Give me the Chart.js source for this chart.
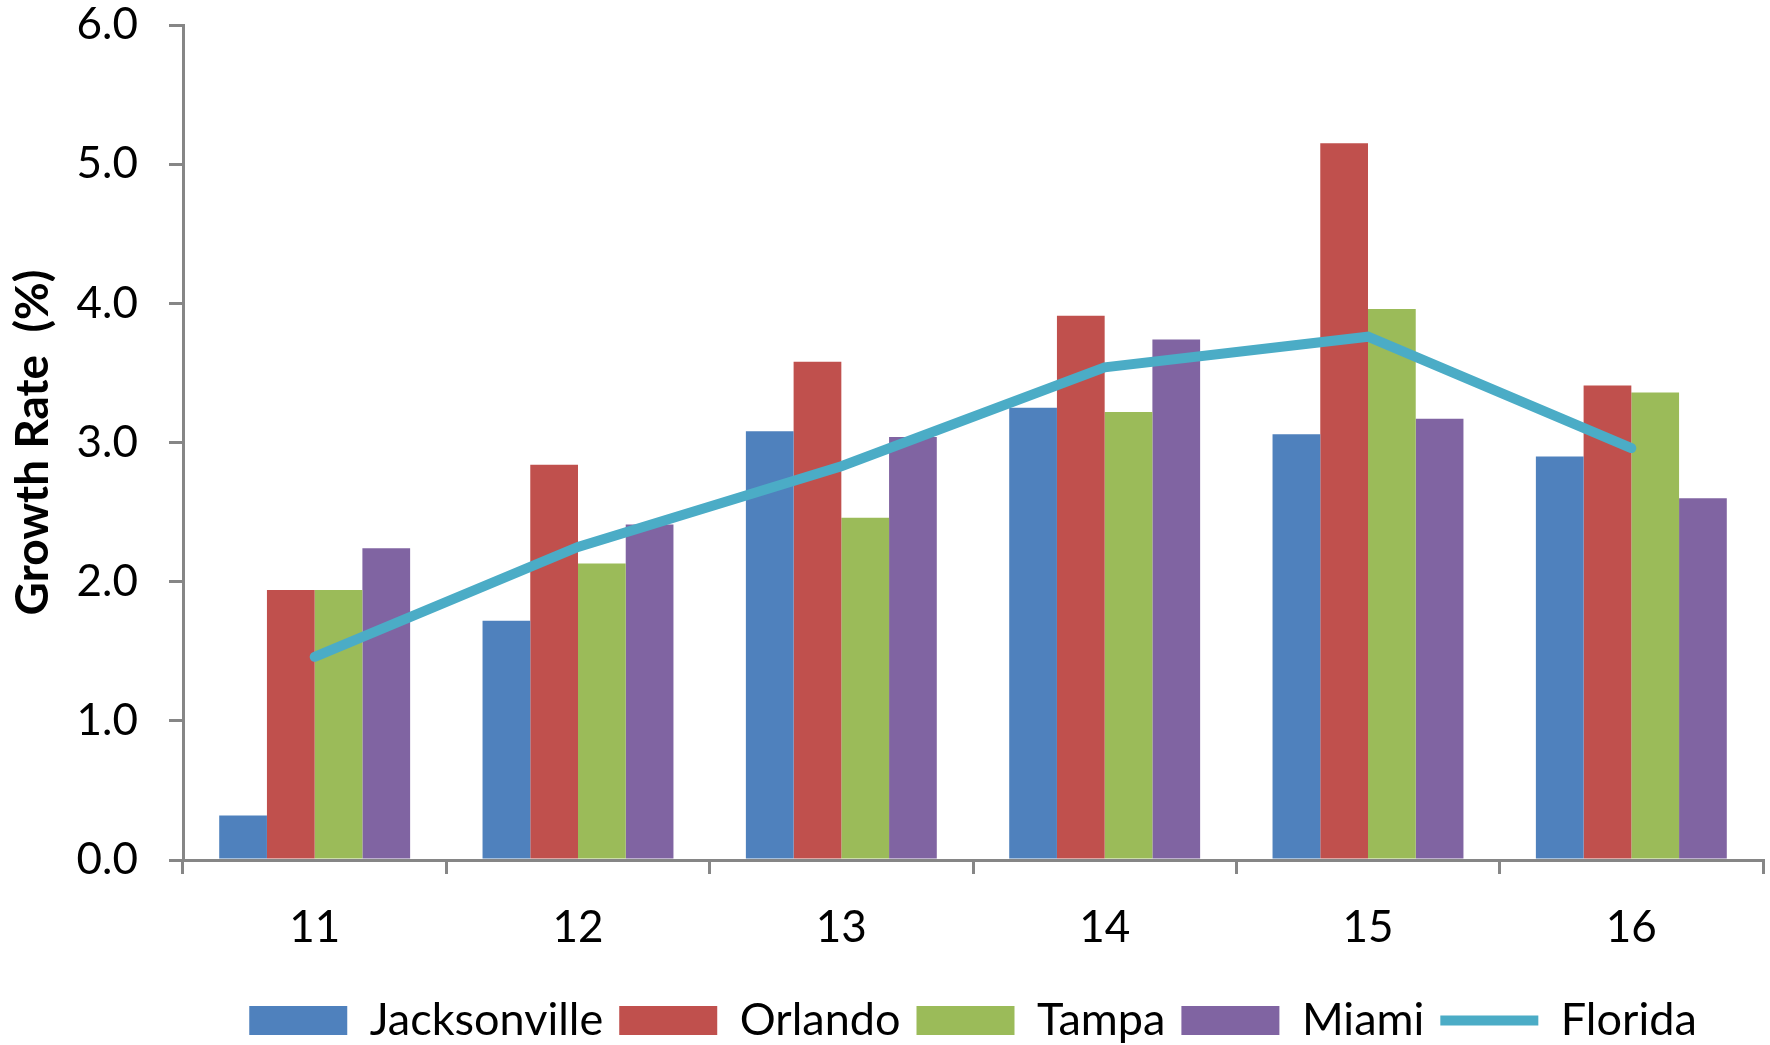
<!DOCTYPE html>
<html>
<head>
<meta charset="utf-8">
<title>Growth Rate</title>
<script src="https://cdn.jsdelivr.net/npm/chart.js@4/dist/chart.umd.min.js"></script>
<style>
  html, body { margin: 0; padding: 0; background: #ffffff; }
  #wrap { width: 1770px; height: 1045px; }
</style>
</head>
<body>
<div id="wrap"><canvas id="chart" width="1770" height="1045"></canvas></div>
<script>
// Year labels (20xx) and growth rates in percent
const years = ['11', '12', '13', '14', '15', '16'];
const jacksonville = [0.32, 1.72, 3.08, 3.25, 3.06, 2.90];
const orlando      = [1.94, 2.84, 3.58, 3.91, 5.15, 3.41];
const tampa        = [1.94, 2.13, 2.46, 3.22, 3.96, 3.36];
const miami        = [2.24, 2.41, 3.04, 3.74, 3.17, 2.60];
const florida      = [1.46, 2.25, 2.83, 3.54, 3.76, 2.96];

const axisGray = '#868686';
const FONT = 'Lato, "Open Sans", sans-serif';

function barSet(label, data, color) {
  return {
    type: 'bar',
    label,
    data,
    backgroundColor: color,
    borderWidth: 0,
    categoryPercentage: 0.725,
    barPercentage: 1.0,
    pointStyle: 'rect',
    order: 1
  };
}

new Chart(document.getElementById('chart'), {
  data: {
    labels: years,
    datasets: [
      barSet('Jacksonville', jacksonville, '#4F81BD'),
      barSet('Orlando', orlando, '#C0504D'),
      barSet('Tampa', tampa, '#9BBB59'),
      barSet('Miami', miami, '#8064A2'),
      {
        type: 'line',
        label: 'Florida',
        data: florida,
        borderColor: '#4BACC6',
        backgroundColor: '#4BACC6',
        borderWidth: 10,
        borderCapStyle: 'round',
        borderJoinStyle: 'miter',
        tension: 0,
        pointRadius: 0,
        pointHoverRadius: 0,
        pointStyle: 'line',
        order: 0
      }
    ]
  },
  options: {
    responsive: false,
    animation: false,
    devicePixelRatio: 1,
    layout: { padding: { left: 0, right: 7, top: 25, bottom: -8 } },
    plugins: {
      tooltip: { enabled: false },
      legend: {
        position: 'bottom',
        fullSize: false,
        labels: {
          usePointStyle: true,
          pointStyleWidth: 98,
          boxHeight: 29,
          padding: 16,
          color: '#000000',
          font: { family: FONT, size: 45 },
          sort: (a, b) => a.datasetIndex - b.datasetIndex
        }
      }
    },
    scales: {
      x: {
        offset: true,
        grid: {
          display: true,
          offset: true,
          drawOnChartArea: false,
          drawTicks: true,
          tickLength: 14,
          color: axisGray,
          lineWidth: 3
        },
        border: { display: true, color: axisGray, width: 3 },
        ticks: {
          color: '#000000',
          font: { family: FONT, size: 44 },
          padding: 27,
          maxRotation: 0,
          autoSkip: false
        },
        afterFit: (s) => { s.height = 122; }
      },
      y: {
        min: 0,
        max: 6,
        grid: {
          display: true,
          drawOnChartArea: false,
          drawTicks: true,
          tickLength: 14,
          color: axisGray,
          lineWidth: 3
        },
        border: { display: true, color: axisGray, width: 3 },
        ticks: {
          stepSize: 1,
          color: '#000000',
          font: { family: FONT, size: 44 },
          padding: 31,
          callback: (v) => Number(v).toFixed(1)
        },
        title: {
          display: true,
          text: 'Growth Rate  (%)',
          color: '#000000',
          font: { family: FONT, size: 46, weight: 'bold' },
          padding: { top: 6, bottom: 0 }
        },
        afterFit: (s) => {
          s.width = 183;
          s.paddingTop = 0;
          s.paddingBottom = 0;
        }
      }
    }
  }
});
</script>
</body>
</html>
